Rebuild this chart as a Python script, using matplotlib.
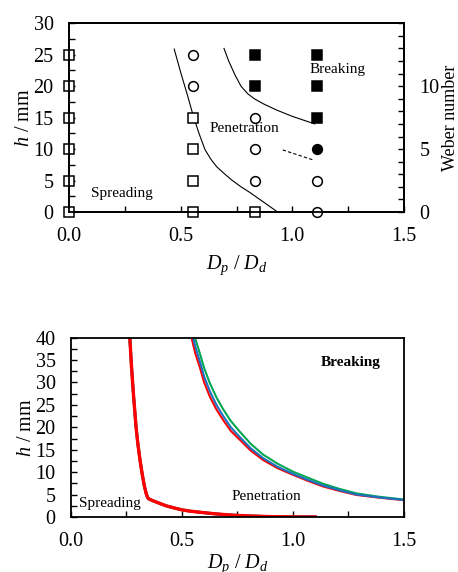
import matplotlib
matplotlib.use("Agg")
import matplotlib.pyplot as plt
from matplotlib.ticker import MultipleLocator, FixedLocator

plt.rcParams["font.family"] = "Liberation Serif"
plt.rcParams["mathtext.fontset"] = "custom"
plt.rcParams["mathtext.rm"] = "Liberation Serif"
plt.rcParams["mathtext.it"] = "Liberation Serif:italic"

# ---- top panel: experiment map ----
spread_x = [0, 0, 0, 0, 0, 0, 0.556, 0.556, 0.556, 0.556, 0.833]
spread_h = [0, 5, 10, 15, 20, 25, 0, 5, 10, 15, 0]
pen_x = [0.556, 0.556, 0.833, 0.833, 0.833, 1.111, 1.111]
pen_h = [20, 25, 5, 10, 15, 0, 5]
brk_x = [0.833, 0.833, 1.111, 1.111, 1.111]
brk_h = [20, 25, 15, 20, 25]
trans_x = [1.111]
trans_h = [10]

bound1_x = [0.471, 0.500, 0.530, 0.557, 0.583, 0.609, 0.635, 0.661, 0.695, 0.728, 0.770, 0.810, 0.870, 0.934]
bound1_h = [25.9, 22.2, 18.6, 15.2, 12.4, 9.9, 8.4, 7.2, 6.1, 5.1, 4.0, 3.1, 1.6, 0.0]
bound2_x = [0.694, 0.715, 0.743, 0.770, 0.800, 0.830, 0.870, 0.930, 1.000, 1.050, 1.101]
bound2_h = [26.0, 24.0, 21.8, 20.0, 18.8, 18.0, 17.2, 16.2, 15.2, 14.6, 14.0]
dash_x = [0.957, 1.094]
dash_h = [9.86, 8.27]
weber_ticks = [0, 5, 10]

# ---- bottom panel: model boundaries ----
left_x = [0.265, 0.272, 0.281, 0.293, 0.302, 0.311, 0.320, 0.330, 0.340, 0.348, 0.370, 0.401,
          0.431, 0.470, 0.499, 0.536, 0.600, 0.656, 0.730, 0.806, 0.900, 1.000, 1.100]
left_h = [40, 34, 27.6, 20.1, 16.0, 12.7, 9.8, 7.0, 5.0, 4.1, 3.6, 3.0,
          2.45, 1.95, 1.6, 1.3, 0.95, 0.67, 0.4, 0.22, 0.08, 0.02, 0.0]
right_x = [0.560, 0.581, 0.600, 0.626, 0.655, 0.686, 0.720, 0.761, 0.810, 0.866,
           0.930, 1.000, 1.070, 1.136, 1.210, 1.287, 1.390, 1.500]
red_h = [36.5, 33.3, 30.0, 26.8, 24.0, 21.6, 19.2, 17.2, 14.8, 12.7,
         10.9, 9.4, 8.0, 6.8, 5.8, 4.9, 4.3, 3.75]
blue_h = [38.0, 34.6, 31.3, 28.0, 25.0, 22.5, 20.0, 17.8, 15.3, 13.1,
          11.2, 9.6, 8.2, 7.0, 5.95, 5.0, 4.35, 3.8]
green_h = [39.8, 36.4, 33.2, 29.8, 26.7, 24.0, 21.4, 19.0, 16.3, 13.9,
           11.9, 10.1, 8.7, 7.4, 6.25, 5.25, 4.5, 3.9]
red_top, blue_top, green_top = 0.543, 0.550, 0.560

fig = plt.figure(figsize=(4.58, 5.72), dpi=100)
ax1 = fig.add_axes([0.1507, 0.6294, 0.7314, 0.3299])
ax2 = fig.add_axes([0.155, 0.0962, 0.727, 0.3135])

tick_kw = dict(which="both", direction="in", length=4, width=1, labelsize=14.5, pad=11)

ms = 7
ax1.plot(spread_x, spread_h, "s", ms=ms, mfc="white", mec="black", mew=1.1, clip_on=False, zorder=5)
ax1.plot(pen_x, pen_h, "o", ms=ms, mfc="white", mec="black", mew=1.1, clip_on=False, zorder=5)
ax1.plot(brk_x, brk_h, "s", ms=ms, mfc="black", mec="black", mew=1.1, clip_on=False, zorder=5)
ax1.plot(trans_x, trans_h, "o", ms=ms, mfc="black", mec="black", mew=1.1, clip_on=False, zorder=5)
ax1.plot(bound1_x, bound1_h, "k-", lw=0.8)
ax1.plot(bound2_x, bound2_h, "k-", lw=0.8)
ax1.plot(dash_x, dash_h, "k--", lw=0.8, dashes=(3, 2))

ax1.text(0.236, 3.0, "Spreading", fontsize=11, ha="center", va="center")
ax1.text(0.784, 13.3, "Penetration", fontsize=11, ha="center", va="center")
ax1.text(1.204, 22.7, "Breaking", fontsize=11, ha="center", va="center")

ax1.set_xlim(0, 1.5)
ax1.set_ylim(0, 30)
ax1.xaxis.set_major_locator(MultipleLocator(0.5))
ax1.xaxis.set_minor_locator(MultipleLocator(0.25))
ax1.yaxis.set_major_locator(MultipleLocator(5))
ax1.yaxis.set_minor_locator(MultipleLocator(2.5))
ax1.tick_params(**tick_kw)
ax1.set_xlabel(r"$D_p$ / $D_d$", fontsize=14.5, labelpad=5)
ax1.set_ylabel(r"$h$ / mm", fontsize=14.5, labelpad=0)
for s in ax1.spines.values():
    s.set_linewidth(1.3)

axw = ax1.twinx()
axw.set_ylim(0, 15)
axw.yaxis.set_major_locator(FixedLocator(weber_ticks))
axw.yaxis.set_minor_locator(MultipleLocator(1))
axw.tick_params(**tick_kw)
axw.set_ylabel("Weber number", fontsize=13, labelpad=2)
for s in axw.spines.values():
    s.set_linewidth(1.3)

# bottom
ax2.plot(left_x, left_h, color="#00a651", lw=2.0)
ax2.plot(left_x, left_h, color="#1f6fc0", lw=2.0)
ax2.plot(left_x, left_h, color="#ff0000", lw=2.4)
ax2.plot([red_top] + right_x, [40] + red_h, color="#ff0000", lw=1.5)
ax2.plot([green_top] + right_x, [40] + green_h, color="#00a651", lw=1.5)
ax2.plot([blue_top] + right_x, [40] + blue_h, color="#1f6fc0", lw=1.5)

ax2.text(0.176, 3.1, "Spreading", fontsize=11, ha="center", va="center")
ax2.text(0.882, 4.5, "Penetration", fontsize=11, ha="center", va="center")
ax2.text(1.26, 34.4, "Breaking", fontsize=11, fontweight="bold", ha="center", va="center")

ax2.set_xlim(0, 1.5)
ax2.set_ylim(0, 40)
ax2.xaxis.set_major_locator(MultipleLocator(0.5))
ax2.xaxis.set_minor_locator(MultipleLocator(0.25))
ax2.yaxis.set_major_locator(MultipleLocator(5))
ax2.yaxis.set_minor_locator(MultipleLocator(2.5))
ax2.tick_params(**tick_kw)
ax2.set_xlabel(r"$D_p$ / $D_d$", fontsize=14.5, labelpad=1)
ax2.set_ylabel(r"$h$ / mm", fontsize=14.5, labelpad=0)
for s in ax2.spines.values():
    s.set_linewidth(1.3)

fig.savefig("out.png", dpi=100)
